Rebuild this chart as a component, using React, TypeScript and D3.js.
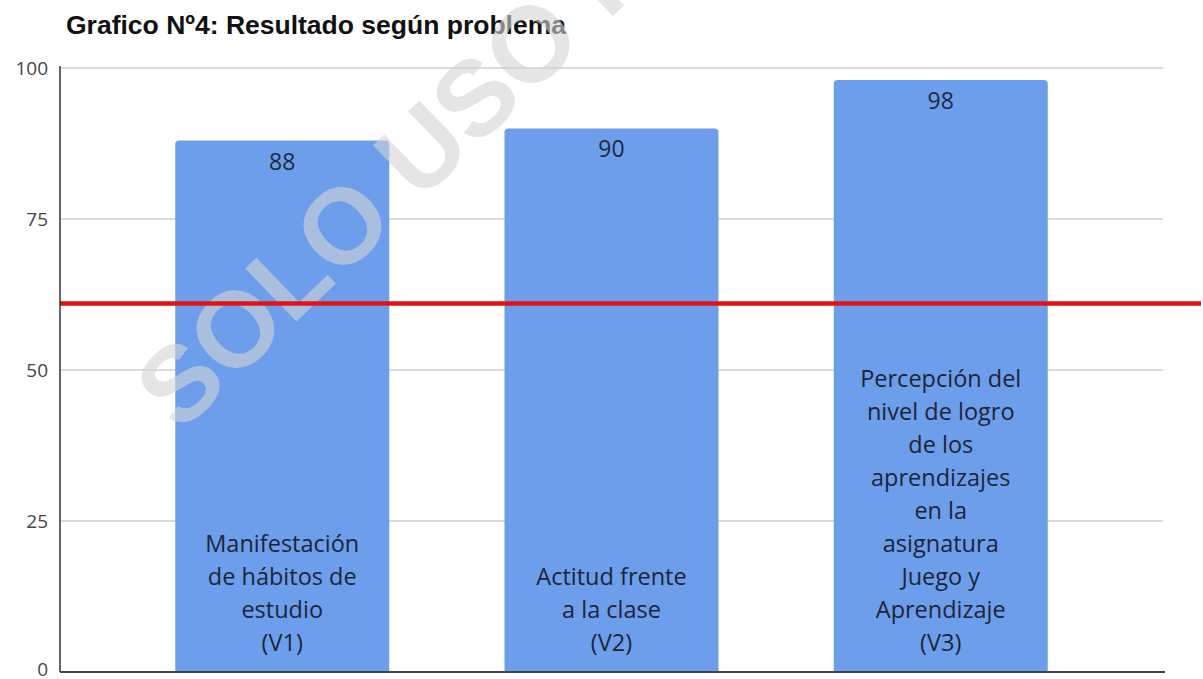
import * as d3 from 'd3'

const categoryLines: string[][] = [
  ['Manifestación', 'de hábitos de', 'estudio', '(V1)'],
  ['Actitud frente', 'a la clase', '(V2)'],
  [
    'Percepción del',
    'nivel de logro',
    'de los',
    'aprendizajes',
    'en la',
    'asignatura',
    'Juego y',
    'Aprendizaje',
    '(V3)',
  ],
]
const categoryKeys = ['V1', 'V2', 'V3']
const values = [88, 90, 98]
const yTicks = [0, 25, 50, 75, 100]
const threshold = 61
const title = 'Grafico Nº4: Resultado según problema'
const watermark = 'SOLO USO PERSONAL'

const W = 1203
const H = 679
const margin = { top: 68, right: 40, bottom: 7, left: 60 }

export default function App() {
  const x = d3
    .scaleBand<string>()
    .domain(categoryKeys)
    .range([margin.left, W - margin.right])
    .paddingInner(0.35)
    .paddingOuter(0.35)
  const y = d3.scaleLinear().domain([0, 100]).range([H - margin.bottom, margin.top])

  const labelFont = "'Open Sans', 'DejaVu Sans', sans-serif"
  const lineGap = 33

  const barPath = (x0: number, y0: number, w: number, h: number, r: number) =>
    `M${x0},${y0 + h}V${y0 + r}Q${x0},${y0} ${x0 + r},${y0}H${x0 + w - r}Q${x0 + w},${y0} ${x0 + w},${y0 + r}V${y0 + h}Z`

  return (
    <svg
      width={W}
      height={H}
      style={{ position: 'absolute', left: 0, top: 0, background: '#fff' }}
    >
      <text
        x={66}
        y={34}
        fontFamily="'Liberation Sans', Arial, sans-serif"
        fontWeight="bold"
        fontSize={26.5}
        fill="#111"
      >
        {title}
      </text>

      {/* grid */}
      {yTicks.map((t) => (
        <g key={t}>
          {t > 0 && (
            <line
              x1={margin.left}
              x2={W - margin.right}
              y1={y(t)}
              y2={y(t)}
              stroke="#cfcfcf"
              strokeWidth={1.5}
            />
          )}
          <text
            x={48}
            y={y(t)}
            dy={t === 0 ? '0.2em' : '0.36em'}
            textAnchor="end"
            fontFamily={labelFont}
            fontSize={19}
            fill="#444"
          >
            {t}
          </text>
        </g>
      ))}

      {/* bars */}
      {categoryKeys.map((k, i) => {
        const bx = x(k) ?? 0
        const by = y(values[i])
        const bw = x.bandwidth()
        const bh = y(0) - by
        const cx = bx + bw / 2
        const lines = categoryLines[i]
        const lastY = y(0) - 29
        return (
          <g key={k}>
            <path d={barPath(bx, by, bw, bh, 4)} fill="#6d9eeb" />
            <text
              x={cx}
              y={by + 21}
              dy="0.35em"
              textAnchor="middle"
              fontFamily={labelFont}
              fontSize={23}
              fill="#1f2a3c"
            >
              {values[i]}
            </text>
            {lines.map((ln, j) => (
              <text
                key={j}
                x={cx}
                y={lastY - (lines.length - 1 - j) * lineGap}
                dy="0.35em"
                textAnchor="middle"
                fontFamily={labelFont}
                fontSize={23.5}
                fill="#1c2536"
              >
                {ln}
              </text>
            ))}
          </g>
        )
      })}

      {/* watermark */}
      <text
        transform="translate(180,434) rotate(-44)"
        fontFamily="'Liberation Sans', Arial, sans-serif"
        fontWeight="bold"
        fontSize={107}
        fill="#d4d4d4"
        opacity={0.6}
      >
        {watermark}
      </text>

      {/* threshold line */}
      <line
        x1={margin.left}
        x2={1201}
        y1={y(threshold)}
        y2={y(threshold)}
        stroke="#e01414"
        strokeWidth={4.5}
      />

      {/* axes */}
      <line
        x1={margin.left}
        x2={margin.left}
        y1={y(100) - 2}
        y2={y(0)}
        stroke="#333"
        strokeWidth={1.5}
      />
      <line
        x1={margin.left}
        x2={W - margin.right + 2}
        y1={y(0)}
        y2={y(0)}
        stroke="#444"
        strokeWidth={2}
      />
    </svg>
  )
}
